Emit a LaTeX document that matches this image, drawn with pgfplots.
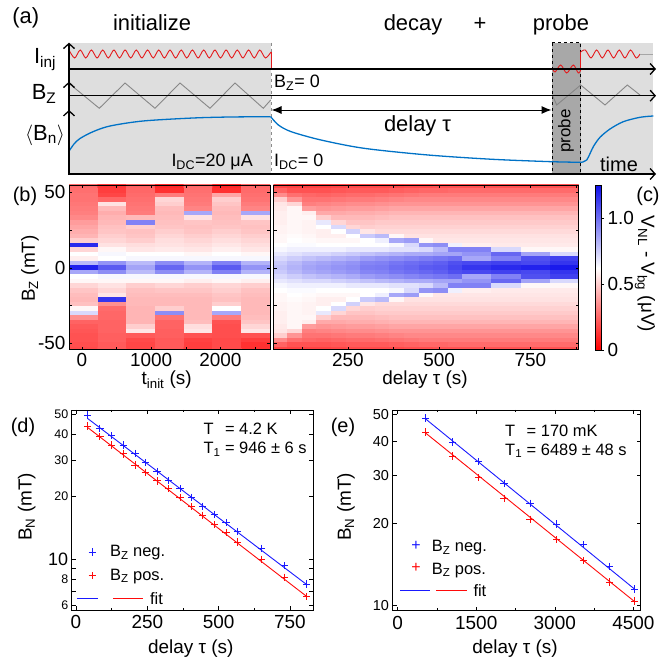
\documentclass[border=0pt]{standalone}
\usepackage{fontspec}
\setmainfont{Liberation Sans}
\usepackage{pgfplots}
\usepackage{pgfplotstable}
\pgfplotsset{compat=1.18}
\usetikzlibrary{arrows.meta}

\newcommand\fs[1]{\fontsize{#1}{#1}\selectfont}
\definecolor{lgray}{RGB}{222,222,222}
\definecolor{pgray}{RGB}{168,168,168}
\definecolor{bcurve}{RGB}{0,114,198}
\definecolor{rcurve}{RGB}{228,26,28}
\definecolor{zig}{RGB}{135,135,135}
\definecolor{mblue}{RGB}{25,25,255}
\definecolor{mred}{RGB}{255,10,10}

\pgfplotsset{colormap={rwb}{rgb255(0cm)=(255,0,0) rgb255(0.62cm)=(255,255,255) rgb255(1.25cm)=(15,15,235)}}

% left map: t_init columns
\pgfplotstableread[row sep=\\]{
x y c\\
20 54 .26\\ 435 54 .14\\ 850 54 .24\\ 1265 54 .10\\ 1680 54 .26\\ 2095 54 .10\\ 2510 54 .25\\
20 51 .27\\ 435 51 .15\\ 850 51 .25\\ 1265 51 .12\\ 1680 51 .27\\ 2095 51 .12\\ 2510 51 .26\\
20 48 .28\\ 435 48 .17\\ 850 48 .26\\ 1265 48 .30\\ 1680 48 .28\\ 2095 48 .40\\ 2510 48 .27\\
20 45 .28\\ 435 45 .25\\ 850 45 .27\\ 1265 45 .52\\ 1680 45 .29\\ 2095 45 .50\\ 2510 45 .28\\
20 42 .29\\ 435 42 .55\\ 850 42 .28\\ 1265 42 .50\\ 1680 42 .30\\ 2095 42 .48\\ 2510 42 .30\\
20 39 .30\\ 435 39 .45\\ 850 39 .29\\ 1265 39 .46\\ 1680 39 .32\\ 2095 39 .46\\ 2510 39 .32\\
20 36 .31\\ 435 36 .42\\ 850 36 .30\\ 1265 36 .45\\ 1680 36 .85\\ 2095 36 .45\\ 2510 36 .85\\
20 33 .33\\ 435 33 .44\\ 850 33 .45\\ 1265 33 .46\\ 1680 33 .55\\ 2095 33 .46\\ 2510 33 .55\\
20 30 .38\\ 435 30 .45\\ 850 30 .95\\ 1265 30 .47\\ 1680 30 .48\\ 2095 30 .47\\ 2510 30 .48\\
20 27 .40\\ 435 27 .47\\ 850 27 .50\\ 1265 27 .48\\ 1680 27 .47\\ 2095 27 .48\\ 2510 27 .47\\
20 24 .42\\ 435 24 .48\\ 850 24 .47\\ 1265 24 .50\\ 1680 24 .48\\ 2095 24 .50\\ 2510 24 .48\\
20 21 .44\\ 435 21 .50\\ 850 21 .48\\ 1265 21 .52\\ 1680 21 .50\\ 2095 21 .52\\ 2510 21 .50\\
20 18 .50\\ 435 18 .52\\ 850 18 .50\\ 1265 18 .54\\ 1680 18 .52\\ 2095 18 .54\\ 2510 18 .52\\
20 15 1.18\\ 435 15 .55\\ 850 15 .54\\ 1265 15 .55\\ 1680 15 .54\\ 2095 15 .56\\ 2510 15 .54\\
20 12 .52\\ 435 12 .60\\ 850 12 .56\\ 1265 12 .57\\ 1680 12 .56\\ 2095 12 .58\\ 2510 12 .56\\
20 9 .62\\ 435 9 .64\\ 850 9 .62\\ 1265 9 .62\\ 1680 9 .60\\ 2095 9 .62\\ 2510 9 .60\\
20 6 .58\\ 435 6 .62\\ 850 6 .64\\ 1265 6 .64\\ 1680 6 .64\\ 2095 6 .64\\ 2510 6 .64\\
20 3 .80\\ 435 3 .90\\ 850 3 .80\\ 1265 3 .92\\ 1680 3 .82\\ 2095 3 .95\\ 2510 3 .82\\
20 0 1.20\\ 435 0 1.05\\ 850 0 .86\\ 1265 0 1.02\\ 1680 0 .90\\ 2095 0 1.05\\ 2510 0 .90\\
20 -3 .85\\ 435 -3 .92\\ 850 -3 .80\\ 1265 -3 .92\\ 1680 -3 .82\\ 2095 -3 .95\\ 2510 -3 .82\\
20 -6 .62\\ 435 -6 .64\\ 850 -6 .64\\ 1265 -6 .64\\ 1680 -6 .64\\ 2095 -6 .64\\ 2510 -6 .64\\
20 -9 .60\\ 435 -9 .60\\ 850 -9 .60\\ 1265 -9 .60\\ 1680 -9 .58\\ 2095 -9 .60\\ 2510 -9 .58\\
20 -12 .52\\ 435 -12 .55\\ 850 -12 .50\\ 1265 -12 .52\\ 1680 -12 .50\\ 2095 -12 .52\\ 2510 -12 .50\\
20 -15 .48\\ 435 -15 .52\\ 850 -15 .47\\ 1265 -15 .48\\ 1680 -15 .48\\ 2095 -15 .50\\ 2510 -15 .47\\
20 -18 .46\\ 435 -18 .56\\ 850 -18 .46\\ 1265 -18 .46\\ 1680 -18 .46\\ 2095 -18 .48\\ 2510 -18 .46\\
20 -21 .45\\ 435 -21 1.15\\ 850 -21 .45\\ 1265 -21 .45\\ 1680 -21 .45\\ 2095 -21 .47\\ 2510 -21 .45\\
20 -24 .47\\ 435 -24 .35\\ 850 -24 .45\\ 1265 -24 .45\\ 1680 -24 .45\\ 2095 -24 .50\\ 2510 -24 .45\\
20 -27 .60\\ 435 -27 .26\\ 850 -27 .44\\ 1265 -27 .50\\ 1680 -27 .45\\ 2095 -27 .62\\ 2510 -27 .45\\
20 -30 .72\\ 435 -30 .25\\ 850 -30 .44\\ 1265 -30 .92\\ 1680 -30 .45\\ 2095 -30 .85\\ 2510 -30 .45\\
20 -33 .35\\ 435 -33 .25\\ 850 -33 .44\\ 1265 -33 .28\\ 1680 -33 .45\\ 2095 -33 .30\\ 2510 -33 .46\\
20 -36 .24\\ 435 -36 .24\\ 850 -36 .44\\ 1265 -36 .24\\ 1680 -36 .46\\ 2095 -36 .20\\ 2510 -36 .48\\
20 -39 .22\\ 435 -39 .24\\ 850 -39 .50\\ 1265 -39 .24\\ 1680 -39 .54\\ 2095 -39 .19\\ 2510 -39 .52\\
20 -42 .21\\ 435 -42 .24\\ 850 -42 .56\\ 1265 -42 .23\\ 1680 -42 .56\\ 2095 -42 .19\\ 2510 -42 .56\\
20 -45 .20\\ 435 -45 .23\\ 850 -45 .22\\ 1265 -45 .23\\ 1680 -45 .20\\ 2095 -45 .19\\ 2510 -45 .20\\
20 -48 .20\\ 435 -48 .23\\ 850 -48 .18\\ 1265 -48 .22\\ 1680 -48 .16\\ 2095 -48 .18\\ 2510 -48 .15\\
20 -51 .19\\ 435 -51 .22\\ 850 -51 .17\\ 1265 -51 .22\\ 1680 -51 .15\\ 2095 -51 .18\\ 2510 -51 .12\\
20 -54 .18\\ 435 -54 .22\\ 850 -54 .17\\ 1265 -54 .22\\ 1680 -54 .15\\ 2095 -54 .18\\ 2510 -54 .12\\
}\tabL

% right map, 40 s columns
\pgfplotstableread[row sep=\\]{
x y c\\
64 54 .17\\ 104 54 .16\\ 144 54 .16\\ 184 54 .16\\ 224 54 .17\\ 264 54 .18\\ 304 54 .18\\ 344 54 .18\\ 384 54 .18\\ 424 54 .19\\ 464 54 .19\\ 504 54 .20\\ 544 54 .20\\
64 51 .24\\ 104 51 .20\\ 144 51 .20\\ 184 51 .20\\ 224 51 .21\\ 264 51 .22\\ 304 51 .22\\ 344 51 .22\\ 384 51 .23\\ 424 51 .24\\ 464 51 .25\\ 504 51 .25\\ 544 51 .26\\
64 48 .34\\ 104 48 .27\\ 144 48 .25\\ 184 48 .24\\ 224 48 .25\\ 264 48 .26\\ 304 48 .26\\ 344 48 .27\\ 384 48 .28\\ 424 48 .29\\ 464 48 .30\\ 504 48 .30\\ 544 48 .30\\
64 45 .50\\ 104 45 .36\\ 144 45 .28\\ 184 45 .28\\ 224 45 .29\\ 264 45 .30\\ 304 45 .30\\ 344 45 .31\\ 384 45 .32\\ 424 45 .33\\ 464 45 .33\\ 504 45 .33\\ 544 45 .33\\
64 42 .56\\ 104 42 .52\\ 144 42 .31\\ 184 42 .32\\ 224 42 .33\\ 264 42 .34\\ 304 42 .34\\ 344 42 .35\\ 384 42 .36\\ 424 42 .36\\ 464 42 .36\\ 504 42 .36\\ 544 42 .36\\
64 39 .57\\ 104 39 .60\\ 144 39 .38\\ 184 39 .36\\ 224 39 .37\\ 264 39 .38\\ 304 39 .38\\ 344 39 .39\\ 384 39 .40\\ 424 39 .40\\ 464 39 .40\\ 504 39 .40\\ 544 39 .40\\
64 36 .58\\ 104 36 .60\\ 144 36 .58\\ 184 36 .41\\ 224 36 .41\\ 264 36 .42\\ 304 36 .42\\ 344 36 .43\\ 384 36 .44\\ 424 36 .44\\ 464 36 .44\\ 504 36 .44\\ 544 36 .44\\
64 33 .58\\ 104 33 .60\\ 144 33 .60\\ 184 33 .50\\ 224 33 .45\\ 264 33 .45\\ 304 33 .45\\ 344 33 .46\\ 384 33 .47\\ 424 33 .47\\ 464 33 .47\\ 504 33 .47\\ 544 33 .47\\
64 30 .58\\ 104 30 .60\\ 144 30 .59\\ 184 30 .68\\ 224 30 .52\\ 264 30 .48\\ 304 30 .48\\ 344 30 .49\\ 384 30 .49\\ 424 30 .49\\ 464 30 .49\\ 504 30 .49\\ 544 30 .49\\
64 27 .59\\ 104 27 .60\\ 144 27 .59\\ 184 27 .62\\ 224 27 .72\\ 264 27 .52\\ 304 27 .50\\ 344 27 .51\\ 384 27 .51\\ 424 27 .51\\ 464 27 .51\\ 504 27 .51\\ 544 27 .51\\
64 24 .59\\ 104 24 .60\\ 144 24 .59\\ 184 24 .58\\ 224 24 .62\\ 264 24 .74\\ 304 24 .56\\ 344 24 .53\\ 384 24 .53\\ 424 24 .53\\ 464 24 .53\\ 504 24 .53\\ 544 24 .53\\
64 21 .60\\ 104 21 .61\\ 144 21 .60\\ 184 21 .58\\ 224 21 .58\\ 264 21 .62\\ 304 21 .76\\ 344 21 .80\\ 384 21 .60\\ 424 21 .55\\ 464 21 .55\\ 504 21 .55\\ 544 21 .55\\
64 18 .60\\ 104 18 .62\\ 144 18 .61\\ 184 18 .60\\ 224 18 .60\\ 264 18 .60\\ 304 18 .62\\ 344 18 .66\\ 384 18 .85\\ 424 18 .88\\ 464 18 .60\\ 504 18 .56\\ 544 18 .56\\
64 15 .62\\ 104 15 .63\\ 144 15 .63\\ 184 15 .62\\ 224 15 .62\\ 264 15 .62\\ 304 15 .62\\ 344 15 .62\\ 384 15 .64\\ 424 15 .72\\ 464 15 .90\\ 504 15 .92\\ 544 15 .66\\
64 12 .64\\ 104 12 .66\\ 144 12 .66\\ 184 12 .66\\ 224 12 .66\\ 264 12 .68\\ 304 12 .68\\ 344 12 .68\\ 384 12 .70\\ 424 12 .70\\ 464 12 .72\\ 504 12 .80\\ 544 12 .95\\
64 9 .68\\ 104 9 .70\\ 144 9 .72\\ 184 9 .72\\ 224 9 .74\\ 264 9 .76\\ 304 9 .78\\ 344 9 .80\\ 384 9 .82\\ 424 9 .84\\ 464 9 .84\\ 504 9 .86\\ 544 9 .86\\
64 6 .72\\ 104 6 .75\\ 144 6 .78\\ 184 6 .80\\ 224 6 .82\\ 264 6 .84\\ 304 6 .88\\ 344 6 .90\\ 384 6 .92\\ 424 6 .94\\ 464 6 .96\\ 504 6 .98\\ 544 6 1.00\\
64 3 .76\\ 104 3 .80\\ 144 3 .84\\ 184 3 .86\\ 224 3 .88\\ 264 3 .90\\ 304 3 .94\\ 344 3 .95\\ 384 3 .98\\ 424 3 1.00\\ 464 3 1.02\\ 504 3 1.04\\ 544 3 1.08\\
64 0 .78\\ 104 0 .82\\ 144 0 .86\\ 184 0 .88\\ 224 0 .90\\ 264 0 .92\\ 304 0 .96\\ 344 0 .97\\ 384 0 1.00\\ 424 0 1.02\\ 464 0 1.05\\ 504 0 1.06\\ 544 0 1.10\\
64 -3 .76\\ 104 -3 .80\\ 144 -3 .84\\ 184 -3 .86\\ 224 -3 .88\\ 264 -3 .90\\ 304 -3 .94\\ 344 -3 .95\\ 384 -3 .98\\ 424 -3 1.00\\ 464 -3 1.02\\ 504 -3 1.04\\ 544 -3 1.08\\
64 -6 .72\\ 104 -6 .75\\ 144 -6 .78\\ 184 -6 .80\\ 224 -6 .82\\ 264 -6 .84\\ 304 -6 .88\\ 344 -6 .90\\ 384 -6 .92\\ 424 -6 .94\\ 464 -6 .96\\ 504 -6 .98\\ 544 -6 1.00\\
64 -9 .68\\ 104 -9 .70\\ 144 -9 .72\\ 184 -9 .72\\ 224 -9 .74\\ 264 -9 .76\\ 304 -9 .78\\ 344 -9 .80\\ 384 -9 .82\\ 424 -9 .84\\ 464 -9 .84\\ 504 -9 .86\\ 544 -9 .86\\
64 -12 .64\\ 104 -12 .66\\ 144 -12 .66\\ 184 -12 .66\\ 224 -12 .66\\ 264 -12 .68\\ 304 -12 .68\\ 344 -12 .68\\ 384 -12 .70\\ 424 -12 .70\\ 464 -12 .72\\ 504 -12 .80\\ 544 -12 .95\\
64 -15 .62\\ 104 -15 .63\\ 144 -15 .63\\ 184 -15 .62\\ 224 -15 .62\\ 264 -15 .62\\ 304 -15 .62\\ 344 -15 .62\\ 384 -15 .64\\ 424 -15 .72\\ 464 -15 .90\\ 504 -15 .92\\ 544 -15 .66\\
64 -18 .60\\ 104 -18 .62\\ 144 -18 .61\\ 184 -18 .60\\ 224 -18 .60\\ 264 -18 .60\\ 304 -18 .62\\ 344 -18 .66\\ 384 -18 .85\\ 424 -18 .88\\ 464 -18 .60\\ 504 -18 .56\\ 544 -18 .56\\
64 -21 .60\\ 104 -21 .61\\ 144 -21 .60\\ 184 -21 .58\\ 224 -21 .58\\ 264 -21 .62\\ 304 -21 .76\\ 344 -21 .80\\ 384 -21 .60\\ 424 -21 .55\\ 464 -21 .55\\ 504 -21 .55\\ 544 -21 .55\\
64 -24 .59\\ 104 -24 .60\\ 144 -24 .59\\ 184 -24 .58\\ 224 -24 .62\\ 264 -24 .74\\ 304 -24 .56\\ 344 -24 .53\\ 384 -24 .53\\ 424 -24 .53\\ 464 -24 .53\\ 504 -24 .53\\ 544 -24 .53\\
64 -27 .59\\ 104 -27 .60\\ 144 -27 .59\\ 184 -27 .62\\ 224 -27 .72\\ 264 -27 .52\\ 304 -27 .50\\ 344 -27 .51\\ 384 -27 .51\\ 424 -27 .51\\ 464 -27 .51\\ 504 -27 .51\\ 544 -27 .51\\
64 -30 .58\\ 104 -30 .60\\ 144 -30 .59\\ 184 -30 .68\\ 224 -30 .52\\ 264 -30 .48\\ 304 -30 .48\\ 344 -30 .49\\ 384 -30 .49\\ 424 -30 .49\\ 464 -30 .49\\ 504 -30 .49\\ 544 -30 .49\\
64 -33 .58\\ 104 -33 .60\\ 144 -33 .60\\ 184 -33 .50\\ 224 -33 .45\\ 264 -33 .45\\ 304 -33 .45\\ 344 -33 .46\\ 384 -33 .47\\ 424 -33 .47\\ 464 -33 .47\\ 504 -33 .47\\ 544 -33 .47\\
64 -36 .58\\ 104 -36 .60\\ 144 -36 .58\\ 184 -36 .41\\ 224 -36 .41\\ 264 -36 .42\\ 304 -36 .42\\ 344 -36 .43\\ 384 -36 .44\\ 424 -36 .44\\ 464 -36 .44\\ 504 -36 .44\\ 544 -36 .44\\
64 -39 .57\\ 104 -39 .60\\ 144 -39 .38\\ 184 -39 .36\\ 224 -39 .37\\ 264 -39 .38\\ 304 -39 .38\\ 344 -39 .39\\ 384 -39 .40\\ 424 -39 .40\\ 464 -39 .40\\ 504 -39 .40\\ 544 -39 .40\\
64 -42 .56\\ 104 -42 .52\\ 144 -42 .31\\ 184 -42 .32\\ 224 -42 .33\\ 264 -42 .34\\ 304 -42 .34\\ 344 -42 .35\\ 384 -42 .36\\ 424 -42 .36\\ 464 -42 .36\\ 504 -42 .36\\ 544 -42 .36\\
64 -45 .50\\ 104 -45 .36\\ 144 -45 .28\\ 184 -45 .28\\ 224 -45 .29\\ 264 -45 .30\\ 304 -45 .30\\ 344 -45 .31\\ 384 -45 .32\\ 424 -45 .33\\ 464 -45 .33\\ 504 -45 .33\\ 544 -45 .33\\
64 -48 .34\\ 104 -48 .27\\ 144 -48 .25\\ 184 -48 .24\\ 224 -48 .25\\ 264 -48 .26\\ 304 -48 .26\\ 344 -48 .27\\ 384 -48 .28\\ 424 -48 .29\\ 464 -48 .30\\ 504 -48 .30\\ 544 -48 .30\\
64 -51 .24\\ 104 -51 .20\\ 144 -51 .20\\ 184 -51 .20\\ 224 -51 .21\\ 264 -51 .22\\ 304 -51 .22\\ 344 -51 .22\\ 384 -51 .23\\ 424 -51 .24\\ 464 -51 .25\\ 504 -51 .25\\ 544 -51 .26\\
64 -54 .17\\ 104 -54 .16\\ 144 -54 .16\\ 184 -54 .16\\ 224 -54 .17\\ 264 -54 .18\\ 304 -54 .18\\ 344 -54 .18\\ 384 -54 .18\\ 424 -54 .19\\ 464 -54 .19\\ 504 -54 .20\\ 544 -54 .20\\
}\tabRa

% right map, 80 s columns
\pgfplotstableread[row sep=\\]{
x y c\\
604 54 .20\\ 684 54 .20\\ 764 54 .20\\ 844 54 .20\\
604 51 .26\\ 684 51 .26\\ 764 51 .26\\ 844 51 .26\\
604 48 .30\\ 684 48 .30\\ 764 48 .30\\ 844 48 .30\\
604 45 .33\\ 684 45 .33\\ 764 45 .33\\ 844 45 .33\\
604 42 .36\\ 684 42 .36\\ 764 42 .36\\ 844 42 .36\\
604 39 .40\\ 684 39 .40\\ 764 39 .40\\ 844 39 .40\\
604 36 .44\\ 684 36 .44\\ 764 36 .44\\ 844 36 .44\\
604 33 .47\\ 684 33 .47\\ 764 33 .47\\ 844 33 .47\\
604 30 .49\\ 684 30 .49\\ 764 30 .49\\ 844 30 .49\\
604 27 .51\\ 684 27 .51\\ 764 27 .51\\ 844 27 .51\\
604 24 .53\\ 684 24 .53\\ 764 24 .53\\ 844 24 .53\\
604 21 .55\\ 684 21 .55\\ 764 21 .55\\ 844 21 .55\\
604 18 .56\\ 684 18 .56\\ 764 18 .56\\ 844 18 .56\\
604 15 .58\\ 684 15 .57\\ 764 15 .57\\ 844 15 .57\\
604 12 .95\\ 684 12 .72\\ 764 12 .60\\ 844 12 .60\\
604 9 .90\\ 684 9 1.02\\ 764 9 .86\\ 844 9 .72\\
604 6 .85\\ 684 6 .95\\ 764 6 1.08\\ 844 6 1.12\\
604 3 1.10\\ 684 3 1.12\\ 764 3 1.10\\ 844 3 1.15\\
604 0 1.15\\ 684 0 1.18\\ 764 0 1.20\\ 844 0 1.22\\
604 -3 1.10\\ 684 -3 1.12\\ 764 -3 1.10\\ 844 -3 1.15\\
604 -6 .85\\ 684 -6 .95\\ 764 -6 1.08\\ 844 -6 1.12\\
604 -9 .90\\ 684 -9 1.02\\ 764 -9 .86\\ 844 -9 .72\\
604 -12 .95\\ 684 -12 .72\\ 764 -12 .60\\ 844 -12 .60\\
604 -15 .58\\ 684 -15 .57\\ 764 -15 .57\\ 844 -15 .57\\
604 -18 .56\\ 684 -18 .56\\ 764 -18 .56\\ 844 -18 .56\\
604 -21 .55\\ 684 -21 .55\\ 764 -21 .55\\ 844 -21 .55\\
604 -24 .53\\ 684 -24 .53\\ 764 -24 .53\\ 844 -24 .53\\
604 -27 .51\\ 684 -27 .51\\ 764 -27 .51\\ 844 -27 .51\\
604 -30 .49\\ 684 -30 .49\\ 764 -30 .49\\ 844 -30 .49\\
604 -33 .47\\ 684 -33 .47\\ 764 -33 .47\\ 844 -33 .47\\
604 -36 .44\\ 684 -36 .44\\ 764 -36 .44\\ 844 -36 .44\\
604 -39 .40\\ 684 -39 .40\\ 764 -39 .40\\ 844 -39 .40\\
604 -42 .36\\ 684 -42 .36\\ 764 -42 .36\\ 844 -42 .36\\
604 -45 .33\\ 684 -45 .33\\ 764 -45 .33\\ 844 -45 .33\\
604 -48 .30\\ 684 -48 .30\\ 764 -48 .30\\ 844 -48 .30\\
604 -51 .26\\ 684 -51 .26\\ 764 -51 .26\\ 844 -51 .26\\
604 -54 .20\\ 684 -54 .20\\ 764 -54 .20\\ 844 -54 .20\\
}\tabRb

\begin{document}
\begin{tikzpicture}
\useasboundingbox (0,0) rectangle (672bp,662bp);

% ---- canvas in pixel units (y down): panel (a) and all labels
\begin{axis}[at={(0,0)}, anchor=south west, scale only axis, width=672bp, height=662bp,
  xmin=0, xmax=672, ymin=0, ymax=662, y dir=reverse, hide axis, clip=false]
\fill[lgray] (axis cs:69,42.7) rectangle (axis cs:271,174);
\fill[lgray] (axis cs:580.7,42.7) rectangle (axis cs:653,174);
\fill[pgray] (axis cs:552.3,42.7) rectangle (axis cs:580.7,174);
\draw[dashed, line width=0.6pt] (axis cs:552.3,42.7) rectangle (axis cs:580.7,174);
\draw[black!45, dashed, line width=0.8pt] (axis cs:271,42.7) -- (axis cs:271,174);
% injection current
\addplot[rcurve, line width=0.9pt, smooth] coordinates {
 (69,50) (74.6,58) (80.2,50) (85.8,58) (91.4,50) (97.1,58) (102.7,50) (108.3,58) (113.9,50) (119.5,58)
 (125.1,50) (130.7,58) (136.3,50) (141.9,58) (147.6,50) (153.2,58) (158.8,50) (164.4,58) (170,50)
 (175.6,58) (181.2,50) (186.8,58) (192.4,50) (198.1,58) (203.7,50) (209.3,58) (214.9,50) (220.5,58)
 (226.1,50) (231.7,58) (237.3,50) (242.9,58) (248.6,50) (254.2,58) (259.8,50) (265.4,58) (271,52)};
\addplot[rcurve, line width=0.9pt] coordinates {(271,52) (271,68) (552.3,68)};
\addplot[rcurve, line width=0.9pt, smooth] coordinates {(552.3,68) (555,72) (560.7,65) (566.7,73) (573.3,65) (578.3,73) (580.7,70)};
\addplot[rcurve, line width=0.9pt] coordinates {(580.7,70) (580.7,52)};
\addplot[rcurve, line width=0.9pt, smooth] coordinates {
 (580.7,52) (585.3,50) (591,58) (596.6,50) (602.3,58) (607.9,50) (613.6,58) (619.2,50) (624.9,58) (630.5,50) (636.2,58) (640,54)};
\addplot[black!35, line width=0.4pt] coordinates {(640,54) (653,54)};
% field sweep
\addplot[zig, line width=0.9pt] coordinates {(68.5,83) (99.3,108.3) (125,83) (155,108.3) (180,83) (210,108.3) (235,83) (263.3,108.3) (270.7,100)};
\addplot[zig, line width=0.9pt] coordinates {(552.3,95) (556.7,105) (580.7,85) (605,105) (627.3,85) (640,95)};
% nuclear field
\addplot[bcurve, line width=1.3pt, smooth] coordinates {(68.5,152) (74,144) (80,138.5) (93,131.7) (110,126) (143,121) (193,118) (230,117) (270.7,116.7)};
\addplot[bcurve, line width=1.3pt, smooth] coordinates {(270.7,116.7) (278.4,125) (291.2,131.7) (321,140) (364,148.3) (428,155) (492.5,159.3) (551.6,161.7) (580.7,162.3)};
\addplot[bcurve, line width=1.3pt, smooth] coordinates {(580.7,162.3) (586.7,160) (593.3,146.7) (600,137.3) (610,129) (623.3,121.7) (640,117.3) (653.3,116)};
% axes of the sketch
\draw[line width=1.3pt, -{Straight Barb[length=5bp,width=11bp]}] (axis cs:69,69) -- (axis cs:656,69);
\draw[line width=1.3pt, -{Straight Barb[length=5bp,width=11bp]}] (axis cs:69,95.7) -- (axis cs:656,95.7);
\draw[line width=1.3pt, -{Straight Barb[length=5bp,width=11bp]}] (axis cs:69,174) -- (axis cs:656,174);
\draw[line width=1.3pt, -{Straight Barb[length=5bp,width=11bp]}] (axis cs:69,175) -- (axis cs:69,42.7);
\draw[line width=1.3pt, -{Straight Barb[length=5bp,width=11bp]}] (axis cs:69,92) -- (axis cs:69,81.7);
\draw[line width=1.3pt, -{Straight Barb[length=5bp,width=11bp]}] (axis cs:69,120) -- (axis cs:69,110);
\draw[line width=1pt, {Latex[length=10bp,width=8bp]}-{Latex[length=10bp,width=8bp]}] (axis cs:271.5,110) -- (axis cs:551.5,110);
% texts of (a)
\node[font=\fs{22}] at (axis cs:25.7,18.3) {(a)};
\node[font=\fs{22}, anchor=base] at (axis cs:152,30.7) {initialize};
\node[font=\fs{22}, anchor=base] at (axis cs:413,30.7) {decay};
\node[font=\fs{22}, anchor=base] at (axis cs:480,30.7) {+};
\node[font=\fs{22}, anchor=base] at (axis cs:561,30.7) {probe};
\node[font=\fs{22}, anchor=base] at (axis cs:45,63.3) {I\textsubscript{inj}};
\node[font=\fs{22}, anchor=base] at (axis cs:44,100) {B\textsubscript{Z}};
\node[font=\fs{22}, anchor=base] at (axis cs:45,140) {$\langle$B\textsubscript{n}$\rangle$};
\node[font=\fs{18}, anchor=base west, inner sep=0pt] at (axis cs:274,87.3) {B\textsubscript{Z}= 0};
\node[font=\fs{22}, anchor=base] at (axis cs:417.6,131.7) {delay τ};
\node[font=\fs{18}, anchor=base west, inner sep=0pt] at (axis cs:171.3,166.7) {I\textsubscript{DC}=20 μA};
\node[font=\fs{18}, anchor=base west, inner sep=0pt] at (axis cs:274,166.7) {I\textsubscript{DC}= 0};
\node[font=\fs{20}, anchor=base west, inner sep=0pt] at (axis cs:600,171.7) {time};
\node[font=\fs{17}, rotate=90] at (axis cs:566,131) {probe};
% texts of (b), (c)
\node[font=\fs{20}] at (axis cs:25,196) {(b)};
\node[font=\fs{19}, rotate=90] at (axis cs:30,268.5) {B\textsubscript{Z} (mT)};
\node[font=\fs{19}] at (axis cs:166.7,380) {t\textsubscript{init} (s)};
\node[font=\fs{19}] at (axis cs:425,380) {delay τ (s)};
\node[font=\fs{17}] at (axis cs:534.7,333.3) {T = 4.2 K};
\node[font=\fs{20}] at (axis cs:648,196.7) {(c)};
\node[font=\fs{19}, rotate=-90] at (axis cs:645,274) {V\textsubscript{NL} - V\textsubscript{bg} (μV)};
% texts of (d), (e)
\node[font=\fs{20}] at (axis cs:23,427) {(d)};
\node[font=\fs{20}] at (axis cs:343,427) {(e)};
\node[font=\fs{19}, rotate=90] at (axis cs:26.7,506.7) {B\textsubscript{N} (mT)};
\node[font=\fs{19}, rotate=90] at (axis cs:346,506.7) {B\textsubscript{N} (mT)};
\node[font=\fs{19}] at (axis cs:190.8,649) {delay τ (s)};
\node[font=\fs{19}] at (axis cs:515,649) {delay τ (s)};
\node[font=\fs{16.5}, anchor=base west, inner sep=0pt] at (axis cs:203.3,434) {T\hphantom{\textsubscript{1}} = 4.2 K};
\node[font=\fs{16.5}, anchor=base west, inner sep=0pt] at (axis cs:203.3,453.5) {T\textsubscript{1} = 946 ± 6 s};
\node[font=\fs{16.5}, anchor=base west, inner sep=0pt] at (axis cs:505,436.5) {T\hphantom{\textsubscript{1}} = 170 mK};
\node[font=\fs{16.5}, anchor=base west, inner sep=0pt] at (axis cs:505,455) {T\textsubscript{1} = 6489 ± 48 s};
% key of (e)
\node[font=\fs{16}, text=mblue, inner sep=0pt] at (axis cs:416,546) {+};
\node[font=\fs{16}, text=mred, inner sep=0pt] at (axis cs:416,568.3) {+};
\node[font=\fs{16.5}, anchor=base west, inner sep=0pt] at (axis cs:431.7,551.9) {B\textsubscript{Z} neg.};
\node[font=\fs{16.5}, anchor=base west, inner sep=0pt] at (axis cs:431.7,574.2) {B\textsubscript{Z} pos.};
\draw[mblue, line width=0.9pt] (axis cs:400,590.7) -- (axis cs:430,590.7);
\draw[mred, line width=0.9pt] (axis cs:436,590.7) -- (axis cs:466.7,590.7);
\node[font=\fs{16.5}, anchor=base west, inner sep=0pt] at (axis cs:473.3,596.7) {fit};
\end{axis}

% ---- (b) left map
\begin{axis}[at={(69bp,312.3bp)}, anchor=south west, scale only axis, width=201bp, height=164.7bp,
  axis on top, enlargelimits=false,
  colormap name=rwb, point meta min=0, point meta max=1.25,
  xmin=-187.5, xmax=2717.5, ymin=-54.2, ymax=54.8,
  xtick={0,500,1000,1500,2000,2500}, xticklabels={0,,1000,,2000,},
  ytick={-50,-25,0,25,50}, yticklabels={-50,,0,,50},
  tick label style={font=\fs{19}}, major tick length=3bp,
  tick style={black, line width=0.5pt}, axis line style={line width=0.8pt}]
\addplot[matrix plot*, mesh/cols=7, mesh/rows=37, point meta=explicit] table[meta=c] {\tabL};
\end{axis}

% ---- (b) right map with colour bar (c)
\begin{axis}[at={(273.5bp,312.3bp)}, anchor=south west, scale only axis, width=305bp, height=164.7bp,
  axis on top, enlargelimits=false,
  colormap name=rwb, point meta min=0, point meta max=1.25,
  xmin=46, xmax=882, ymin=-54.2, ymax=54.8,
  xtick={125,250,375,500,625,750,875}, xticklabels={,250,,500,,750,},
  ytick={-50,-25,0,25,50}, yticklabels={},
  tick label style={font=\fs{19}}, major tick length=3bp,
  tick style={black, line width=0.5pt}, axis line style={line width=0.8pt},
  colorbar,
  colorbar style={at={(parent axis.north east)}, anchor=north west, xshift=8.5bp,
    scale only axis, width=5.6bp, height=165bp,
    ytick={0,0.5,1}, yticklabels={0,0.5,1.0}, ytick pos=right,
    tick align=outside, major tick length=3bp,
    yticklabel style={font=\fs{19}}, axis line style={line width=0.6pt}}]
\addplot[matrix plot*, mesh/cols=13, mesh/rows=37, point meta=explicit] table[meta=c] {\tabRa};
\addplot[matrix plot*, mesh/cols=4, mesh/rows=37, point meta=explicit] table[meta=c] {\tabRb};
\end{axis}

% ---- (d) 4.2 K
\begin{axis}[at={(71.7bp,52bp)}, anchor=south west, scale only axis, width=241.6bp, height=200bp,
  ymode=log, yminorticks=false,
  xmin=-15, xmax=832, ymin=5.7, ymax=52.2,
  xtick={0,250,500,750}, xticklabels={0,250,500,750}, minor xtick={125,375,625},
  ytick={6,7,8,9,10,20,30,40,50}, yticklabels={6,,8,,{\fs{18}10},20,30,40,50},
  xticklabel style={font=\fs{19}, yshift=-2bp}, yticklabel style={font=\fs{12.5}},
  major tick length=4bp, minor tick length=2.5bp,
  tick style={black, line width=0.5pt}, axis line style={line width=0.8pt},
  legend cell align=left,
  legend style={draw=none, fill=none, inner sep=0pt, outer sep=0pt, font=\fs{16.5},
    row sep=10.5bp, column sep=3bp, nodes={inner sep=0pt}, anchor=north west, at={(0.0207,0.322)}}]
\addplot[mblue, only marks, mark=+, mark size=3.6bp, mark options={mblue, line width=0.9pt},
  legend image code/.code={\path[draw=none, fill=none] (0bp,-6bp) rectangle (30bp,6bp);
    \draw[mblue, line width=0.9pt] (11.4bp,0bp) -- (18.6bp,0bp) (15bp,-3.6bp) -- (15bp,3.6bp);}]
  coordinates {(41,49.4) (84,42.7) (125,39.2) (166,35.4) (207,32.3) (244,29.1) (284,26.4) (324,23.9) (365,21.8) (406,19.9) (444,18.0) (485,16.4) (526,15.0) (566,13.6) (649,11.3) (730,9.3) (809,7.6)};
\addlegendentry{B\textsubscript{Z} neg.}
\addplot[mred, only marks, mark=+, mark size=3.6bp, mark options={mred, line width=0.9pt},
  legend image code/.code={\path[draw=none, fill=none] (0bp,-6bp) rectangle (30bp,6bp);
    \draw[mred, line width=0.9pt] (11.4bp,0bp) -- (18.6bp,0bp) (15bp,-3.6bp) -- (15bp,3.6bp);}]
  coordinates {(41,43.7) (84,38.8) (125,35.4) (166,32.1) (207,28.4) (244,26.2) (284,23.8) (324,21.8) (365,19.9) (406,17.9) (444,16.3) (485,14.7) (526,13.4) (566,12.1) (649,10.0) (730,8.2) (809,6.6)};
\addlegendentry{B\textsubscript{Z} pos.}
\addplot[mblue, line width=0.9pt, forget plot] coordinates {(41,47.5) (809,7.55)};
\addplot[mred, line width=0.9pt, forget plot] coordinates {(41,43.0) (809,6.62)};
\addlegendimage{legend image code/.code={\path[draw=none, fill=none] (0bp,-6bp) rectangle (30bp,6bp);
  \draw[mblue, line width=0.9pt] (0bp,0bp) -- (20.6bp,0bp);}}
\addlegendentry{\hspace{3.3bp}\textcolor{mred}{\rule[0.3em]{30bp}{0.9pt}}\hspace{6.7bp}fit}
\end{axis}

% ---- (e) 170 mK
\begin{axis}[at={(392.5bp,51.3bp)}, anchor=south west, scale only axis, width=248.2bp, height=200.7bp,
  ymode=log, yminorticks=false,
  xmin=-99, xmax=4641, ymin=9.58, ymax=52,
  xtick={0,1500,3000,4500}, xticklabels={0,1500,3000,4500}, minor xtick={750,2250,3750},
  ytick={10,20,30,40,50}, yticklabels={10,20,30,40,50},
  xticklabel style={font=\fs{19}, yshift=-2bp}, yticklabel style={font=\fs{14.5}},
  major tick length=4bp, minor tick length=2.5bp,
  tick style={black, line width=0.5pt}, axis line style={line width=0.8pt}]
\addplot[mblue, only marks, mark=+, mark size=3.6bp, mark options={mblue, line width=0.9pt}]
  coordinates {(535,48.6) (1051,39.7) (1541,33.6) (2031,28.0) (2528,23.7) (3038,19.9) (3547,16.7) (4044,13.9) (4522,11.5)};
\addplot[mred, only marks, mark=+, mark size=3.6bp, mark options={mred, line width=0.9pt}]
  coordinates {(535,43.2) (1051,35.3) (1541,29.4) (2031,24.7) (2528,20.7) (3038,17.4) (3547,14.6) (4044,12.2) (4522,10.4)};
\addplot[mblue, line width=0.9pt] coordinates {(535,48.2) (4522,11.5)};
\addplot[mred, line width=0.9pt] coordinates {(535,42.8) (4522,10.35)};
\end{axis}
\end{tikzpicture}
\end{document}
